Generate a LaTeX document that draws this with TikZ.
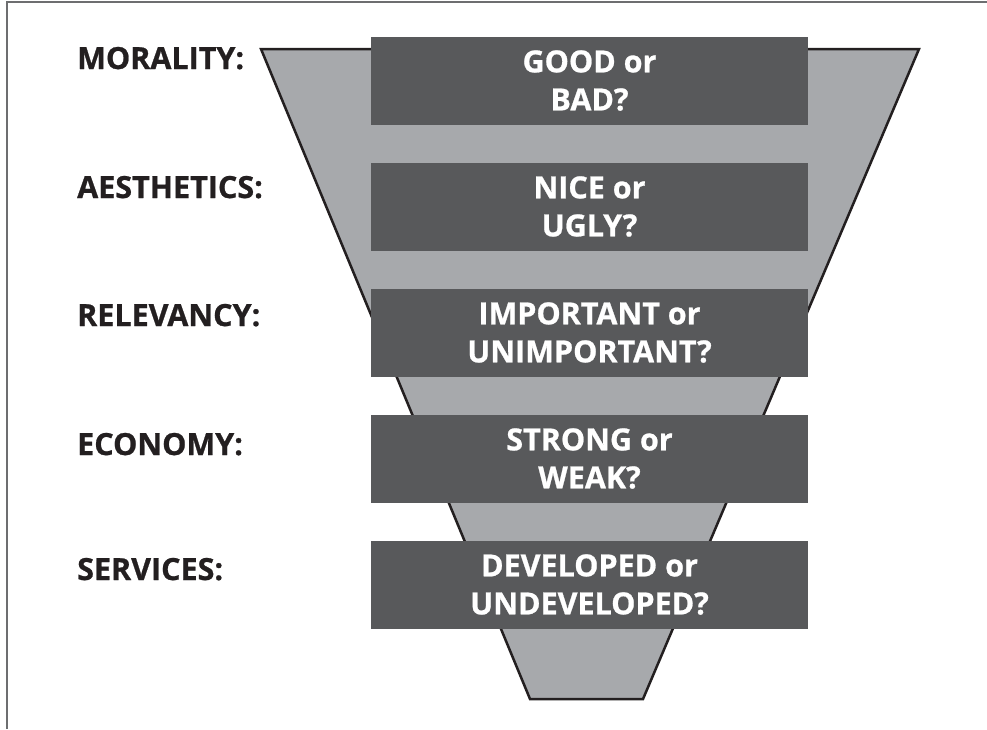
\documentclass[tikz,border=0pt]{standalone}
\usepackage{fontspec}
\setmainfont{Open Sans}[BoldFeatures={FakeBold=0.8}]
\definecolor{funnelgray}{HTML}{A7A9AC}
\definecolor{boxgray}{HTML}{58595B}
\definecolor{framegray}{HTML}{6D6E70}
\definecolor{ink}{HTML}{231F20}
\begin{document}
\begin{tikzpicture}[x=1pt,y=-1pt,
  qbox/.style={fill=boxgray, text=white, minimum width=437pt, minimum height=88pt,
    inner sep=0pt, align=center, font=\fontsize{30.5}{38}\selectfont\bfseries},
  lbl/.style={anchor=base west, inner sep=0pt, text=ink, font=\fontsize{30.5}{34}\selectfont\bfseries},
  funnel/.style={fill=funnelgray, draw=ink, line width=2.5pt, line join=miter}]
\useasboundingbox (0,0) rectangle (987,729);
% frame
\draw[framegray, line width=2pt] (7,729) -- (7,2) -- (987,2);
% funnel
\coordinate (f1) at (261,49);
\coordinate (f2) at (919,49);
\coordinate (f3) at (643,699);
\coordinate (f4) at (530,699);
\draw[funnel] (f1) -- (f2) -- (f3) -- (f4) -- cycle;
% boxes
\node[qbox] (b1) at (589.5,80.5) {GOOD or\\BAD?};
\node[qbox] (b2) at (589.5,206.5) {NICE or\\UGLY?};
\node[qbox] (b3) at (589.5,332.5) {IMPORTANT or\\UNIMPORTANT?};
\node[qbox] (b4) at (589.5,458.5) {STRONG or\\WEAK?};
\node[qbox] (b5) at (589.5,584.5) {DEVELOPED or\\UNDEVELOPED?};
% labels
\node[lbl] (l1) at (77,69) {MORALITY:};
\node[lbl] (l2) at (77,198) {AESTHETICS:};
\node[lbl] (l3) at (77,326) {RELEVANCY:};
\node[lbl] (l4) at (77,455) {ECONOMY:};
\node[lbl] (l5) at (77,580) {SERVICES:};
\end{tikzpicture}
\end{document}
